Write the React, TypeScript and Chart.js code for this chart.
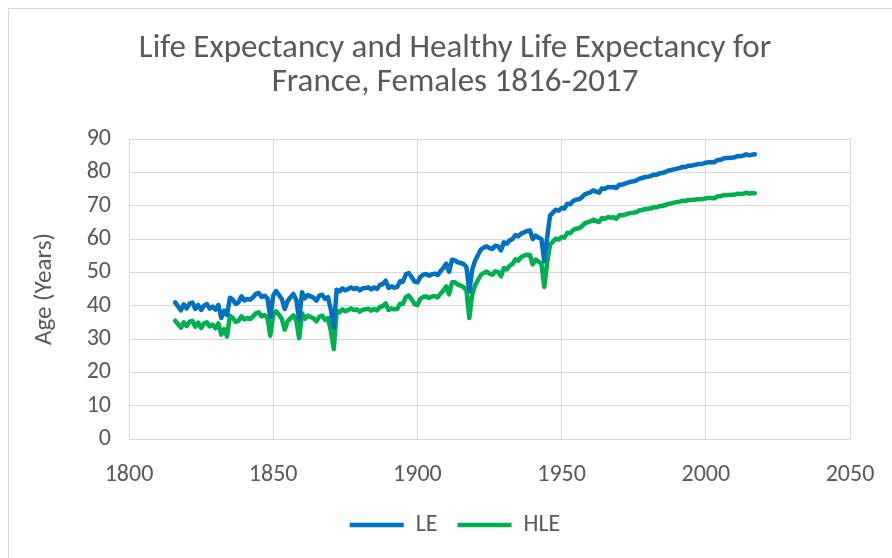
import React, { useEffect, useRef } from "react";
import { Chart, registerables } from "chart.js";

Chart.register(...registerables);

const TITLE = ["Life Expectancy and Healthy Life Expectancy for", "France, Females 1816-2017"];
const Y_TITLE = "Age (Years)";
const FIRST_YEAR = 1816;
const X_TICKS = [1800, 1850, 1900, 1950, 2000, 2050];
const Y_TICKS = [0, 10, 20, 30, 40, 50, 60, 70, 80, 90];

const LE = [
  41.0, 39.8, 38.6, 40.4, 39.2, 40.6, 40.9, 39.0, 40.2, 38.7,
  40.0, 40.5, 39.1, 39.7, 38.8, 40.2, 36.3, 38.5, 37.2, 42.4,
  41.8, 40.5, 41.0, 42.8, 41.6, 42.0, 41.8, 42.5, 43.5, 43.8,
  42.6, 43.0, 42.2, 36.6, 43.0, 44.4, 43.2, 42.0, 39.0, 41.4,
  42.5, 43.5, 41.8, 35.8, 44.0, 42.2, 43.2, 42.8, 42.4, 41.5,
  43.0, 43.3, 42.0, 42.6, 38.8, 33.3, 44.8, 44.3, 45.2, 44.6,
  45.0, 45.5, 45.0, 45.3, 44.6, 45.2, 45.3, 45.5, 44.9, 45.5,
  45.0, 46.2, 46.5, 47.5, 45.3, 45.8, 45.4, 45.6, 47.3, 47.2,
  49.4, 49.8, 48.6, 47.2, 47.0, 48.6, 49.3, 49.5, 49.0, 49.4,
  49.6, 49.2, 50.3, 51.3, 52.6, 50.2, 53.8, 53.6, 53.0, 52.8,
  52.5, 51.6, 44.3, 50.8, 53.5, 55.2, 56.8, 57.4, 57.8, 57.3,
  57.0, 58.0, 57.8, 56.6, 59.0, 58.6, 59.6, 60.0, 61.2, 60.8,
  61.6, 62.0, 62.4, 62.6, 60.0, 61.0, 60.4, 60.0, 53.3, 60.5,
  67.0, 67.9, 68.8, 68.5, 69.3, 69.1, 70.6, 70.4, 71.4, 71.8,
  71.9, 72.5, 73.4, 73.7, 74.0, 74.6, 74.2, 73.9, 75.2, 75.0,
  75.6, 75.5, 75.6, 75.3, 76.3, 76.3, 76.6, 76.9, 77.2, 77.3,
  77.6, 78.1, 78.3, 78.6, 78.7, 78.9, 79.3, 79.3, 79.7, 79.8,
  80.1, 80.5, 80.7, 80.9, 81.1, 81.3, 81.6, 81.6, 82.0, 82.0,
  82.2, 82.4, 82.5, 82.6, 82.9, 83.0, 83.1, 83.0, 83.7, 83.7,
  84.1, 84.3, 84.3, 84.4, 84.5, 84.9, 84.8, 85.0, 85.4, 85.1,
  85.3, 85.4,
];

const HLE = [
  35.5, 34.5, 33.4, 35.0, 33.9, 35.2, 35.4, 33.7, 34.9, 33.3,
  34.6, 35.0, 33.8, 34.3, 33.2, 34.7, 31.3, 33.0, 30.8, 37.0,
  36.3, 35.1, 35.5, 36.8, 35.9, 36.3, 36.0, 36.8, 37.7, 38.0,
  36.8, 37.2, 36.4, 31.0, 37.3, 38.3, 37.3, 36.0, 32.8, 35.3,
  36.2, 37.1, 35.6, 30.2, 37.7, 36.1, 37.0, 36.6, 36.2, 35.3,
  36.7, 37.0, 35.7, 36.3, 32.4, 27.0, 38.5, 38.0, 38.9, 38.3,
  38.7, 39.2, 38.7, 38.9, 38.2, 38.8, 38.9, 39.1, 38.5, 39.0,
  38.6, 39.6, 39.9, 40.7, 38.7, 39.2, 38.9, 39.0, 40.6, 40.5,
  42.6, 43.0, 41.9, 40.5, 40.2, 42.0, 42.6, 42.8, 42.3, 42.7,
  42.9, 42.5, 43.6, 44.5, 45.8, 43.4, 47.0, 47.0, 46.3, 46.0,
  45.6, 44.6, 36.3, 43.4, 46.1, 47.7, 49.2, 49.8, 50.2, 49.6,
  49.3, 50.3, 50.1, 48.8, 51.3, 50.9, 52.0, 52.5, 53.9, 53.5,
  54.6, 55.0, 55.3, 55.2, 52.4, 53.8, 53.2, 52.6, 45.6, 53.0,
  58.4, 59.2, 60.1, 59.8, 60.6, 60.4, 61.9, 61.7, 62.7, 63.1,
  63.2, 63.8, 64.7, 65.0, 65.3, 65.8, 65.4, 65.1, 66.3, 66.0,
  66.6, 66.4, 66.5, 66.1, 67.1, 67.1, 67.3, 67.6, 67.8, 67.9,
  68.1, 68.6, 68.7, 69.0, 69.1, 69.2, 69.6, 69.5, 69.9, 69.9,
  70.2, 70.5, 70.7, 70.9, 71.1, 71.2, 71.5, 71.4, 71.7, 71.7,
  71.8, 71.9, 71.9, 72.0, 72.2, 72.3, 72.3, 72.2, 72.8, 72.8,
  73.1, 73.2, 73.2, 73.3, 73.3, 73.6, 73.5, 73.6, 73.9, 73.6,
  73.8, 73.7,
];

const YEARS = LE.map((_, i) => FIRST_YEAR + i);

const FONT = "Carlito, Calibri, Lato, sans-serif";
const TEXT = "#595959";
const GRID = "#d9d9d9";

export default function App() {
  const ref = useRef<HTMLCanvasElement | null>(null);

  useEffect(() => {
    if (!ref.current) return;
    const chart = new Chart(ref.current, {
      type: "line",
      data: {
        datasets: [
          {
            label: "LE",
            data: YEARS.map((y, i) => ({ x: y, y: LE[i] })),
            borderColor: "#0070C0",
            backgroundColor: "#0070C0",
            borderWidth: 4.5,
            borderCapStyle: "round",
            borderJoinStyle: "round",
            pointRadius: 0,
            tension: 0,
          },
          {
            label: "HLE",
            data: YEARS.map((y, i) => ({ x: y, y: HLE[i] })),
            borderColor: "#00B050",
            backgroundColor: "#00B050",
            borderWidth: 4.5,
            borderCapStyle: "round",
            borderJoinStyle: "round",
            pointRadius: 0,
            tension: 0,
          },
        ],
      },
      options: {
        responsive: false,
        animation: false,
        layout: { padding: { left: 18, right: 0, top: 5, bottom: 11 } },
        plugins: {
          title: {
            display: true,
            text: TITLE,
            color: TEXT,
            font: { family: FONT, size: 33, weight: "normal", lineHeight: "34px" },
            padding: { top: 27, bottom: 39 },
          },
          legend: {
            position: "bottom",
            labels: {
              color: TEXT,
              font: { family: FONT, size: 24 },
              usePointStyle: true,
              pointStyle: "line",
              pointStyleWidth: 54,
              padding: 20,
            },
          },
          tooltip: { enabled: false },
        },
        scales: {
          x: {
            type: "linear",
            min: X_TICKS[0],
            max: X_TICKS[X_TICKS.length - 1],
            afterBuildTicks: (s: any) => {
              s.ticks = X_TICKS.map((v) => ({ value: v }));
            },
            afterFit: (s: any) => {
              s.height = 54;
              s.paddingLeft = 0;
              s.paddingRight = 0;
            },
            grid: { color: GRID, drawTicks: false },
            border: { color: GRID },
            ticks: {
              color: TEXT,
              font: { family: FONT, size: 24 },
              padding: 22,
              maxRotation: 0,
              callback: (v: any) => String(v),
            },
          },
          y: {
            min: Y_TICKS[0],
            max: Y_TICKS[Y_TICKS.length - 1],
            afterBuildTicks: (s: any) => {
              s.ticks = Y_TICKS.map((v) => ({ value: v }));
            },
            afterFit: (s: any) => {
              s.width = 111;
            },
            grid: { color: GRID, drawTicks: false },
            border: { display: false },
            title: {
              display: true,
              text: Y_TITLE,
              color: TEXT,
              font: { family: FONT, size: 25 },
              padding: { top: 12, bottom: 0 },
            },
            ticks: {
              color: TEXT,
              font: { family: FONT, size: 24 },
              padding: 18,
            },
          },
          y2: {
            position: "right",
            afterFit: (s: any) => {
              s.width = 42;
            },
            grid: { display: false, drawTicks: false },
            border: { display: false },
            ticks: { display: false },
          },
        },
      },
    } as any);
    return () => chart.destroy();
  }, []);

  return (
    <>
      <div
        style={{
          position: "absolute",
          left: 8,
          top: 8,
          width: 884,
          height: 550,
          boxSizing: "border-box",
          borderTop: `1px solid ${GRID}`,
          borderLeft: `1px solid ${GRID}`,
        }}
      />
      <canvas
        ref={ref}
        width={892}
        height={558}
        style={{ position: "absolute", left: 0, top: 0, width: 892, height: 558 }}
      />
    </>
  );
}
